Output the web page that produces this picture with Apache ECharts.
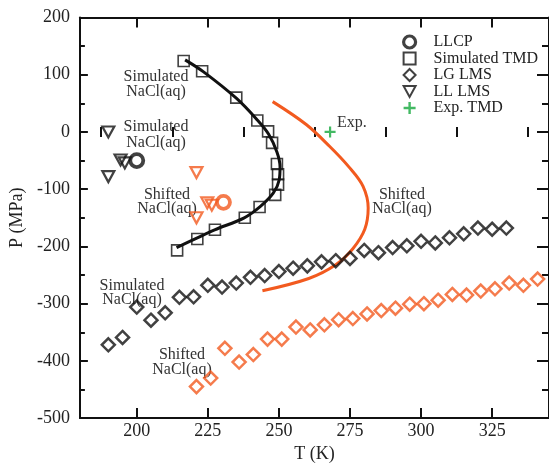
<!DOCTYPE html>
<html>
<head>
<meta charset="utf-8">
<script src="https://cdn.jsdelivr.net/npm/echarts@6/dist/echarts.min.js"></script>
<style>html,body{margin:0;padding:0;background:#fff}#c{width:549px;height:468px}</style>
</head>
<body>
<div id="c"></div>
<script>
// ---- data ----
const xMajor = [200, 225, 250, 275, 300, 325];
const xMinor = [187.5, 212.5, 237.5, 262.5, 287.5, 312.5, 337.5];

const tmdT = [216.5, 223, 235, 242.4, 246.2, 247.6, 249.3, 249.7, 249.7, 248.7, 243.2, 238, 227.5, 221.3, 214.2];
const tmdP = [124, 106, 60, 20, 1, -19, -56, -74, -92, -110, -131, -150, -171, -187, -207];

const fitSimT = [217, 223.5, 235, 242.4, 246.4, 249.3, 250.4, 250.1, 248, 243.5, 237.8, 227.4, 221.3, 214];
const fitSimP = [126, 105, 59, 21, -4, -35, -61, -84, -107, -130, -150, -171, -185, -202];

const fitShiftT = [247.8, 259.6, 267.8, 274.6, 279.6, 281.4, 280.2, 276, 270, 260.5, 244.2];
const fitShiftP = [53, 13, -25, -61, -95, -133, -170, -204, -232, -256, -277.5];

const llcpT = [200];
const llcpP = [-50];
const llcpShiftT = [230.5];
const llcpShiftP = [-123];

const llT = [190, 190, 194.3, 195.8];
const llP = [0, -78, -49, -54];
const llShiftT = [221, 221, 224.8, 226.4];
const llShiftP = [-71, -150, -124, -128];

const lgT = [190, 195, 200, 205, 210, 215, 220, 225, 230, 235, 240, 245, 250, 255, 260, 265, 270, 275, 280, 285, 290, 295, 300, 305, 310, 315, 320, 325, 330];
const lgP = [-372, -359, -306, -329, -316, -289, -288, -268, -271, -264, -254, -251, -244, -238, -234, -227, -225, -221, -207, -211, -202, -199, -191, -194, -185, -178, -168, -170, -168];

const lgShiftT = [221, 226, 231, 236, 241, 246, 251, 256, 261, 266, 271, 276, 281, 286, 291, 296, 301, 306, 311, 316, 321, 326, 331, 336, 341];
const lgShiftP = [-445, -430, -378, -402, -389, -362, -362, -341, -346, -337, -328, -326, -318, -312, -308, -301, -300, -294, -284, -285, -278, -274, -264, -268, -257];

const expT = [268];
const expP = [0];

const legendNames = ['LLCP', 'Simulated TMD', 'LG LMS', 'LL LMS', 'Exp. TMD'];

// ---- build ----
const zip = (a, b) => a.map((v, i) => [v, b[i]]);
const BLACK = '#111';
const ORANGE = '#f25a1f';
const GREEN = '#14a83c';
const SERIF = '"Liberation Serif", "DejaVu Serif", serif';
const TRI = 'path://M0,0L12,0L6,11Z';
const PLUS = 'path://M4,0H6V4H10V6H6V10H4V6H0V4H4Z';

function scatter(name, data, symbol, size, color, bw, extra) {
  return Object.assign({
    name, type: 'scatter', data, symbol, symbolSize: size,
    itemStyle: { color: 'transparent', borderColor: color, borderWidth: bw },
    emphasis: { disabled: true }, z: 3
  }, extra || {});
}

const axisCommon = {
  type: 'value', min: 180, max: 345,
  splitLine: { show: false },
  axisLine: { show: true, onZero: false, lineStyle: { color: BLACK, width: 2 } }
};

const chart = echarts.init(document.getElementById('c'), null, { renderer: 'canvas' });
chart.setOption({
  animation: false,
  backgroundColor: '#fff',
  grid: { left: 76, top: 17.5, width: 477, height: 410 },
  xAxis: [
    Object.assign({}, axisCommon, {
      position: 'bottom',
      axisTick: { inside: true, length: 10, customValues: xMajor, lineStyle: { color: BLACK, width: 2 } },
      axisLabel: { customValues: xMajor, color: '#222', fontFamily: SERIF, fontSize: 18, margin: 4 },
      name: 'T (K)', nameLocation: 'middle', nameGap: 14,
      nameTextStyle: { color: '#222', fontFamily: SERIF, fontSize: 18 }
    }),
    Object.assign({}, axisCommon, {
      position: 'bottom', axisLine: { show: false },
      axisTick: { inside: true, length: 5, customValues: xMinor, lineStyle: { color: BLACK, width: 2 } },
      axisLabel: { show: false }
    }),
    Object.assign({}, axisCommon, {
      position: 'top',
      axisTick: { inside: true, length: 10, customValues: xMajor, lineStyle: { color: BLACK, width: 2 } },
      axisLabel: { show: false }
    }),
    Object.assign({}, axisCommon, {
      position: 'top', axisLine: { show: false },
      axisTick: { inside: true, length: 5, customValues: xMinor, lineStyle: { color: BLACK, width: 2 } },
      axisLabel: { show: false }
    })
  ],
  yAxis: [
    {
      type: 'value', position: 'left', min: -500, max: 200, interval: 100,
      splitLine: { show: false },
      axisLine: { show: true, onZero: false, lineStyle: { color: BLACK, width: 2 } },
      axisTick: { inside: true, length: 8, lineStyle: { color: BLACK, width: 2 } },
      minorTick: { show: true, splitNumber: 2, length: 5, lineStyle: { color: BLACK, width: 2 } },
      minorSplitLine: { show: false },
      axisLabel: { color: '#222', fontFamily: SERIF, fontSize: 18, margin: 10 },
      name: 'P (MPa)', nameLocation: 'middle', nameGap: 29, nameRotate: 90,
      nameTextStyle: { color: '#222', fontFamily: SERIF, fontSize: 18 }
    },
    {
      type: 'value', position: 'right', min: -500, max: 200, interval: 100,
      splitLine: { show: false },
      axisLine: { show: true, onZero: false, lineStyle: { color: BLACK, width: 2 } },
      axisTick: { inside: true, length: 12, lineStyle: { color: BLACK, width: 2 } },
      minorTick: { show: true, splitNumber: 2, length: 7, lineStyle: { color: BLACK, width: 2 } },
      axisLabel: { show: false }
    }
  ],
  legend: {
    orient: 'vertical', left: 397, top: 29,
    itemWidth: 12, itemHeight: 12, itemGap: 0.5,
    selectedMode: false,
    textStyle: { color: '#222', fontFamily: SERIF, fontSize: 16, lineHeight: 16, padding: [0, 0, 0, 13] },
    data: legendNames.map(n => n === 'LLCP'
      ? { name: n, itemStyle: { borderWidth: 3.2 } }
      : { name: n })
  },
  graphic: [
    { type: 'text', x: 156, y: 84.5, style: { text: 'Simulated\nNaCl(aq)', font: '16px ' + SERIF, fill: '#333', align: 'center', verticalAlign: 'middle', lineHeight: 15.5 } },
    { type: 'text', x: 156, y: 135, style: { text: 'Simulated\nNaCl(aq)', font: '16px ' + SERIF, fill: '#333', align: 'center', verticalAlign: 'middle', lineHeight: 15.5 } },
    { type: 'text', x: 167, y: 202, style: { text: 'Shifted\nNaCl(aq)', font: '16px ' + SERIF, fill: '#333', align: 'center', verticalAlign: 'middle', lineHeight: 14.5 } },
    { type: 'text', x: 402, y: 202, style: { text: 'Shifted\nNaCl(aq)', font: '16px ' + SERIF, fill: '#333', align: 'center', verticalAlign: 'middle', lineHeight: 14.5 } },
    { type: 'text', x: 132, y: 293, style: { text: 'Simulated\nNaCl(aq)', font: '16px ' + SERIF, fill: '#333', align: 'center', verticalAlign: 'middle', lineHeight: 14.5 } },
    { type: 'text', x: 182, y: 362.5, style: { text: 'Shifted\nNaCl(aq)', font: '16px ' + SERIF, fill: '#333', align: 'center', verticalAlign: 'middle', lineHeight: 14.5 } },
    { type: 'text', x: 337, y: 123, style: { text: 'Exp.', font: '16px ' + SERIF, fill: '#333', align: 'left', verticalAlign: 'middle' } }
  ],
  series: [
    { name: 'fit sim', type: 'line', data: zip(fitSimT, fitSimP), showSymbol: false, smooth: 0.35,
      lineStyle: { color: BLACK, width: 3 }, silent: true, z: 2 },
    { name: 'fit shift', type: 'line', data: zip(fitShiftT, fitShiftP), showSymbol: false, smooth: 0.35,
      lineStyle: { color: ORANGE, width: 3 }, silent: true, z: 2 },
    scatter('Simulated TMD', zip(tmdT, tmdP), 'rect', 11, BLACK, 1.6),
    scatter('LG LMS', zip(lgT, lgP), 'diamond', [13, 13], BLACK, 2.5),
    scatter('LG LMS shifted', zip(lgShiftT, lgShiftP), 'diamond', [13, 13], ORANGE, 2.5),
    scatter('LL LMS', zip(llT, llP), TRI, [12, 11], BLACK, 2.2),
    scatter('LL LMS shifted', zip(llShiftT, llShiftP), TRI, [12, 11], ORANGE, 2.2),
    scatter('LLCP', zip(llcpT, llcpP), 'circle', 13, BLACK, 3.8),
    scatter('LLCP shifted', zip(llcpShiftT, llcpShiftP), 'circle', 13, ORANGE, 3.8),
    { name: 'Exp. TMD', type: 'scatter', data: zip(expT, expP), symbol: PLUS, symbolSize: 11,
      itemStyle: { color: GREEN }, emphasis: { disabled: true }, z: 3 }
  ]
});
</script>
</body>
</html>
